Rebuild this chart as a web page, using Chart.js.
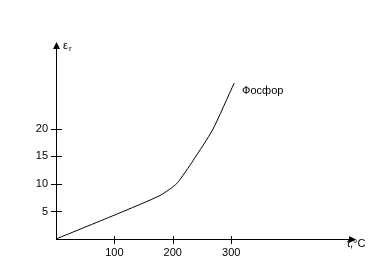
<!DOCTYPE html>
<html lang="ru">
<head>
  <meta charset="UTF-8" />
  <title>Фосфор</title>
  <script src="https://cdn.jsdelivr.net/npm/chart.js"></script>
  <style>
    html, body { margin: 0; padding: 0; background: #fff; }
    #wrap { width: 380px; height: 271px; }
  </style>
</head>
<body>
  <div id="wrap"><canvas id="chart" width="380" height="271"></canvas></div>

  <script>
    // temperature, °C
    const temps = [0, 106, 178, 207, 235, 268, 305];
    // relative permittivity
    const eps = [0, 4.6, 7.9, 10.1, 14.3, 19.8, 28.3];
    const xTicks = [100, 200, 300];
    const yTicks = [5, 10, 15, 20];
    const seriesName = 'Фосфор';

    const FONT = '11px "Liberation Sans", Arial, sans-serif';

    // axes with arrows, crossing tick marks and labels
    const axesPlugin = {
      id: 'axes',
      afterDraw(chart) {
        const c = chart.ctx;
        const xs = chart.scales.x, ys = chart.scales.y;
        const x0 = xs.getPixelForValue(0), y0 = ys.getPixelForValue(0);
        const xEnd = xs.right, yTop = ys.top;
        c.save();
        c.strokeStyle = '#000';
        c.fillStyle = '#000';
        c.lineWidth = 1;
        c.beginPath();
        c.moveTo(x0 + 0.5, y0 + 0.5); c.lineTo(x0 + 0.5, yTop);
        c.moveTo(x0, y0 + 0.5); c.lineTo(xEnd, y0 + 0.5);
        c.stroke();
        // arrowheads
        c.beginPath();
        c.moveTo(x0 + 0.5, yTop - 1); c.lineTo(x0 - 3, yTop + 6); c.lineTo(x0 + 4, yTop + 6); c.closePath();
        c.fill();
        c.beginPath();
        c.moveTo(xEnd + 1, y0 + 0.5); c.lineTo(xEnd - 6, y0 - 3); c.lineTo(xEnd - 6, y0 + 4); c.closePath();
        c.fill();

        c.font = FONT;
        c.beginPath();
        yTicks.forEach(v => {
          const y = Math.round(ys.getPixelForValue(v)) + 0.5;
          c.moveTo(x0 - 5, y); c.lineTo(x0 + 6, y);
        });
        xTicks.forEach(v => {
          const x = Math.round(xs.getPixelForValue(v)) + 0.5;
          c.moveTo(x, y0 - 3); c.lineTo(x, y0 + 5);
        });
        c.stroke();
        c.textAlign = 'right'; c.textBaseline = 'middle';
        yTicks.forEach(v => c.fillText(String(v), x0 - 8, ys.getPixelForValue(v)));
        c.textAlign = 'center'; c.textBaseline = 'top';
        xTicks.forEach(v => c.fillText(String(v), xs.getPixelForValue(v), y0 + 8));

        // axis titles
        c.textAlign = 'left'; c.textBaseline = 'middle';
        c.fillText('ε', x0 + 7, yTop + 3);
        c.font = '8px "Liberation Sans", Arial, sans-serif';
        c.fillText('r', x0 + 13, yTop + 6);
        c.font = FONT;
        c.fillText('t,°C', xEnd - 8, y0 + 5);

        // series label
        const last = temps.length - 1;
        c.fillText(seriesName, xs.getPixelForValue(temps[last]) + 8, ys.getPixelForValue(eps[last]) + 8);
        c.restore();
      }
    };

    new Chart(document.getElementById('chart'), {
      type: 'line',
      data: {
        labels: temps,
        datasets: [{
          label: seriesName,
          data: temps.map((t, i) => ({ x: t, y: eps[i] })),
          borderColor: '#000',
          borderWidth: 1,
          pointRadius: 0,
          tension: 0.2,
          fill: false
        }]
      },
      options: {
        responsive: false,
        animation: false,
        layout: { padding: { left: 56, right: 25, top: 43, bottom: 32 } },
        plugins: { legend: { display: false }, tooltip: { enabled: false } },
        scales: {
          x: { type: 'linear', min: 0, max: 512, display: false },
          y: { type: 'linear', min: 0, max: 35.6, display: false }
        }
      },
      plugins: [axesPlugin]
    });
  </script>
</body>
</html>
